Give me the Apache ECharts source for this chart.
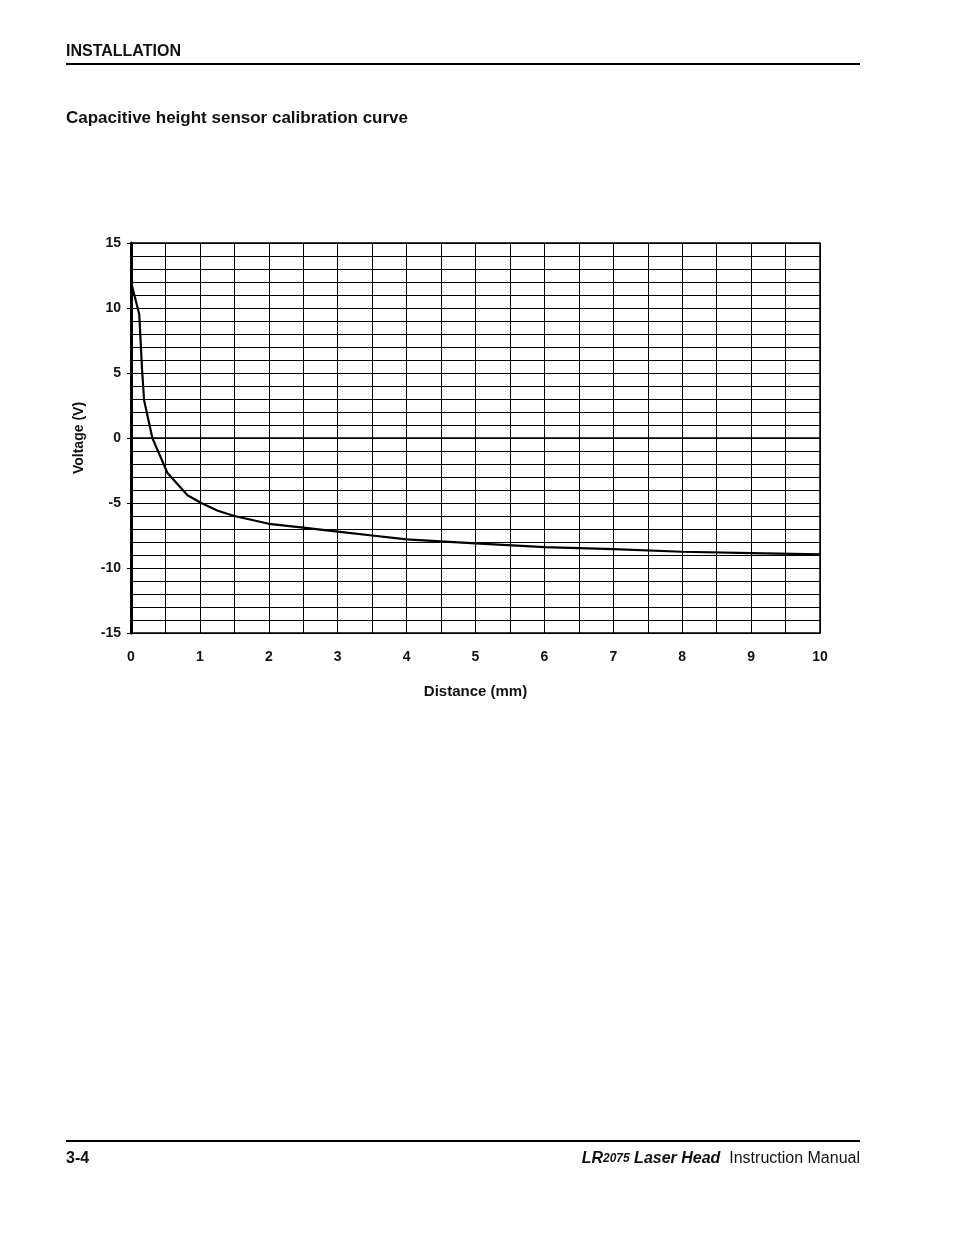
<!DOCTYPE html>
<html><head><meta charset="utf-8">
<script src="https://cdn.jsdelivr.net/npm/echarts@6/dist/echarts.min.js"></script>
<style>html,body{margin:0;padding:0;background:#fff}#c{width:954px;height:1235px}</style>
</head><body><div id="c"></div>
<script>
var distance = [0, 0.02, 0.12, 0.16, 0.19, 0.31, 0.53, 0.82, 1.02, 1.26, 1.5, 2, 2.5, 3, 3.5, 4, 5, 6, 7, 8, 9, 10];
var voltage  = [11.9, 11.6, 9.5, 5.3, 2.9, 0, -2.7, -4.4, -5.0, -5.6, -6.0, -6.6, -6.9, -7.2, -7.5, -7.8, -8.1, -8.4, -8.55, -8.75, -8.85, -8.95];
var F = 'Liberation Sans, Arial, sans-serif';
var chart = echarts.init(document.getElementById('c'));
chart.setOption({
  animation: false,
  grid: {left: 131, right: 134, top: 243, bottom: 602, show: true, borderColor: '#000', borderWidth: 1.5},
  xAxis: {type: 'value', min: 0, max: 10, interval: 1,
    name: 'Distance (mm)', nameLocation: 'middle', nameGap: 51,
    nameTextStyle: {fontFamily: F, fontWeight: 'bold', fontSize: 15, color: '#111'},
    axisLine: {lineStyle: {color: '#000', width: 1.5}}, axisTick: {show: false},
    axisLabel: {margin: 17, fontFamily: F, fontWeight: 'bold', fontSize: 14, color: '#111'},
    splitLine: {lineStyle: {color: '#000', width: 1}},
    minorTick: {show: false, splitNumber: 2},
    minorSplitLine: {show: true, lineStyle: {color: '#000', width: 1}}},
  yAxis: {type: 'value', min: -15, max: 15, interval: 5,
    name: 'Voltage (V)', nameLocation: 'middle', nameGap: 45, nameRotate: 90,
    nameTextStyle: {fontFamily: F, fontWeight: 'bold', fontSize: 14, color: '#111'},
    axisLine: {show: true, lineStyle: {color: '#000', width: 3}},
    axisTick: {show: true, length: 4, lineStyle: {color: '#000', width: 1}},
    axisLabel: {margin: 10, fontFamily: F, fontWeight: 'bold', fontSize: 14, color: '#111'},
    splitLine: {lineStyle: {color: '#000', width: 1}},
    minorTick: {show: false, splitNumber: 5},
    minorSplitLine: {show: true, lineStyle: {color: '#000', width: 1}}},
  series: [{type: 'line', data: distance.map(function(d, i){return [d, voltage[i]];}),
    showSymbol: false, smooth: false, lineStyle: {color: '#000', width: 2.2}}],
  graphic: [
    {type: 'text', left: 66, top: 44, style: {text: 'INSTALLATION', font: 'bold 16px ' + F, fill: '#111'}},
    {type: 'rect', shape: {x: 66, y: 63, width: 794, height: 2}, style: {fill: '#000'}},
    {type: 'text', left: 66, top: 110, style: {text: 'Capacitive height sensor calibration curve', font: 'bold 17px ' + F, fill: '#111'}},
    {type: 'rect', shape: {x: 66, y: 1140, width: 794, height: 2}, style: {fill: '#000'}},
    {type: 'text', left: 66, top: 1151, style: {text: '3-4', font: 'bold 16px ' + F, fill: '#111'}},
    {type: 'text', right: 94, top: 1151, style: {rich: {
      a: {font: 'italic bold 16px ' + F, fill: '#111'},
      b: {font: 'italic bold 12px ' + F, fill: '#111'},
      c: {font: '16px ' + F, fill: '#111'}},
      text: '{a|LR}{b|2075}{a| Laser Head}{c|  Instruction Manual}'}}
  ]
});
</script></body></html>
